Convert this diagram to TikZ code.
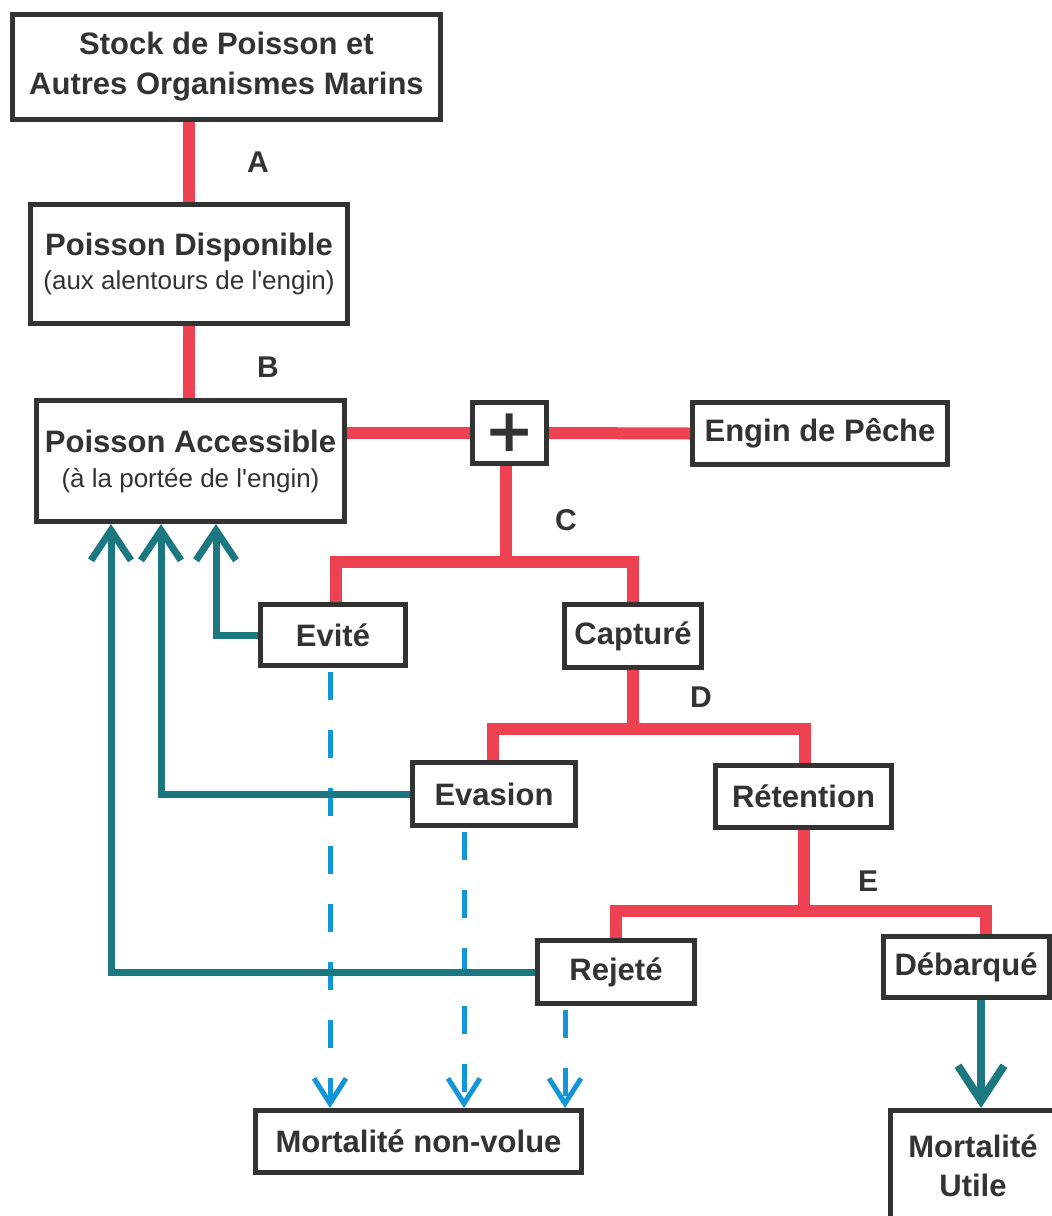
\documentclass[tikz,border=0pt]{standalone}
\usepackage{fontspec}
\setmainfont{Liberation Sans}[Ligatures=TeXOff]
\newfontfamily\plusfont{DejaVu Sans}
\usetikzlibrary{arrows.meta,calc}
\definecolor{ink}{RGB}{51,51,51}
\definecolor{fred}{RGB}{238,66,82}
\definecolor{fteal}{RGB}{28,120,128}
\definecolor{fblue}{RGB}{18,150,215}
\newcommand{\subtxt}{\fontsize{26}{30}\selectfont\mdseries}
\begin{document}
\begin{tikzpicture}[x=1pt,y=1pt,
  box/.style={draw=ink, line width=5pt, fill=white, text=ink, inner sep=0pt, align=center,
    font=\fontsize{31}{38}\selectfont\bfseries},
  redl/.style={draw=fred, line width=12pt, line join=miter},
  tealarrow/.style={draw=fteal, line width=7pt, line join=miter,
    -{Straight Barb[sharp,length=30pt,width=40pt]}},
  tealbig/.style={draw=fteal, line width=8pt, line join=miter,
    -{Straight Barb[sharp,length=35pt,width=46pt]}},
  bluearrow/.style={draw=fblue, line width=5pt, dash pattern=on 28pt off 30pt, shorten <=4pt,
    -{Straight Barb[sharp,length=25pt,width=32pt]}},
  lab/.style={text=ink, font=\fontsize{30}{36}\selectfont\bfseries},
]
\clip (0,0) rectangle (1052,-1216);
\fill[white] (0,0) rectangle (1052,-1216);

% boxes
\node[box, minimum width=428pt, minimum height=105pt] (stock) at (226.5,-67)
  {\rule{0pt}{6pt}Stock de Poisson et\\[2pt]Autres Organismes Marins};
\node[box, minimum width=317pt, minimum height=119pt] (dispo) at (189,-264)
  {\rule{0pt}{6pt}Poisson Disponible\\[-4pt]{\subtxt (aux alentours de l'engin)}};
\node[box, minimum width=308pt, minimum height=121pt] (access) at (190.5,-461)
  {\rule{0pt}{6pt}Poisson Accessible\\[-3pt]{\subtxt (à la portée de l'engin)}};
\node[box, minimum width=74pt, minimum height=61pt, font=\plusfont\fontsize{60}{60}\selectfont\bfseries] (plus) at (509.5,-433) {+};
\node[box, minimum width=255pt, minimum height=62pt] (engin) at (820,-433.5) {Engin de Pêche};
\node[box, minimum width=145pt, minimum height=61pt] (evite) at (333,-635) {Evité};
\node[box, minimum width=137pt, minimum height=63pt] (capture) at (633,-636) {Capturé};
\node[box, minimum width=163pt, minimum height=63pt] (evasion) at (494,-794) {Evasion};
\node[box, minimum width=176pt, minimum height=62pt] (retention) at (803.5,-796.5) {Rétention};
\node[box, minimum width=157pt, minimum height=63pt] (rejete) at (616,-972) {Rejeté};
\node[box, minimum width=166pt, minimum height=61pt] (debarque) at (966,-967) {Débarqué};
\node[box, minimum width=326pt, minimum height=62pt] (mnv) at (418.5,-1141.5) {Mortalité non-volue};
\node[box, minimum width=165pt, minimum height=111pt] (mu) at (973,-1166) {Mortalité\\[1pt]Utile};

% junctions
\coordinate (jC) at (506,-562);
\coordinate (jD) at (633,-729);
\coordinate (jE) at (804,-911);

% red tree
\draw[redl] (stock.south -| dispo.north) -- (dispo.north);
\draw[redl] (dispo.south) -- (dispo.south |- access.north);
\draw[redl] (plus.west -| access.east) -- (plus.west);
\draw[redl] (plus.east) -- (engin.west);
\draw[redl] (plus.south -| jC) -- (jC);
\draw[redl] ([xshift=3pt]evite.north) |- (jC) -| (capture.north);
\draw[redl] (capture.south) -- (jD);
\draw[redl] ([xshift=-1pt]evasion.north) |- (jD) -| ([xshift=1.5pt]retention.north);
\draw[redl] (retention.south -| jE) -- (jE);
\draw[redl] (rejete.north) |- (jE) -| ([xshift=20pt]debarque.north);

% labels
\node[lab] (la) at (258,-162) {A};
\node[lab] (lb) at (268,-367) {B};
\node[lab] (lc) at (566,-520) {C};
\node[lab] (ld) at (701,-697) {D};
\node[lab] (le) at (868,-881) {E};

% blue dashed
\draw[bluearrow] ([xshift=-3pt]evite.south) -- ([xshift=-3pt]evite.south |- mnv.north);
\draw[bluearrow] ([xshift=-30pt]evasion.south) -- ([xshift=-30pt]evasion.south |- mnv.north);
\draw[bluearrow] ([xshift=-51pt]rejete.south) -- ([xshift=-51pt]rejete.south |- mnv.north);

% teal returns
\draw[tealarrow] (evite.west) -| ($(access.south west)+(182,0)$);
\draw[tealarrow] (evasion.west) -| ($(access.south west)+(127,0)$);
\draw[tealarrow] (rejete.west) -| ($(access.south west)+(77,0)$);
\draw[tealbig] ([xshift=15pt]debarque.south) -- ([xshift=15pt]debarque.south |- mu.north);
\end{tikzpicture}
\end{document}
